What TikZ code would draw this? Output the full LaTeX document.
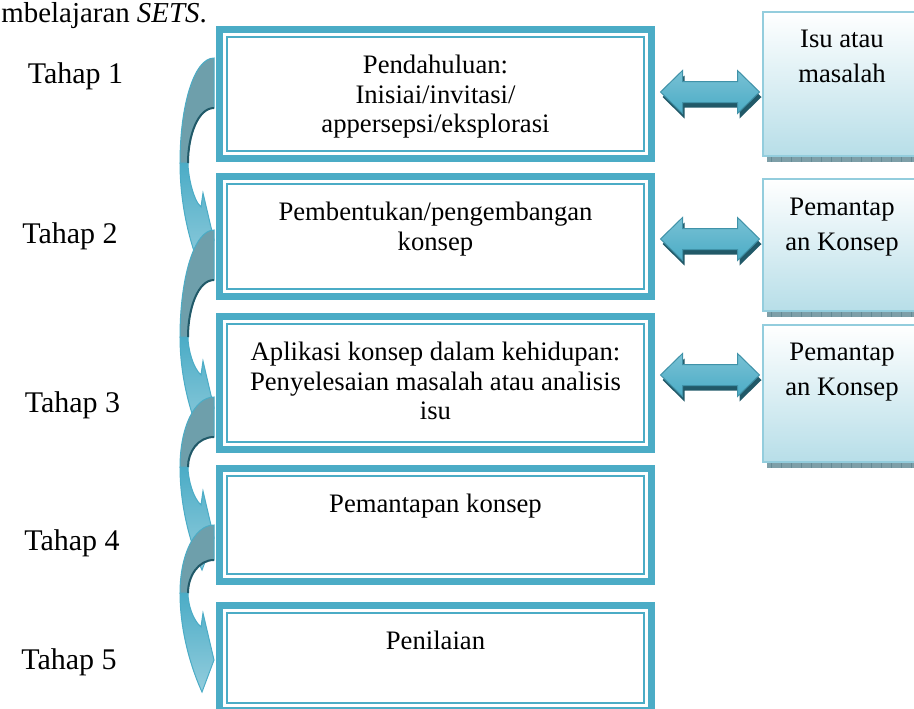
\documentclass[tikz,border=0pt]{standalone}
\usepackage{fontspec}
\setmainfont{Liberation Serif}
\usepackage{xcolor}
\usepackage{tikz}
\usetikzlibrary{positioning}
\usetikzlibrary{fit}
\usetikzlibrary{calc}

\definecolor{setsteal}{HTML}{4BACC6}
\definecolor{setsdark}{HTML}{215968}
\definecolor{setsback}{HTML}{6E9FAB}
\definecolor{setslight}{HTML}{93CDDD}
\definecolor{setspale}{HTML}{B7DEE8}
\definecolor{setsshadow}{HTML}{7E9FA8}

\tikzset{
  mainbox/.style={draw=setsteal, line width=3.15pt, inner sep=0pt, outer sep=0pt},
  innerline/.style={draw=setsteal, line width=0.9pt},
  boxtext/.style={align=center, inner sep=0pt, font=\fontsize{12}{13.3}\selectfont},
  sidebox/.style={draw=setslight, line width=0.9pt, inner sep=0pt, outer sep=0pt,
    top color=white, bottom color=setspale},
  sidetext/.style={align=center, inner sep=0pt, font=\fontsize{12}{15.75}\selectfont},
  tahap/.style={anchor=base, inner sep=0pt, font=\fontsize{13.5}{15}\selectfont},
  bandfront/.style={top color=setsteal, bottom color=setslight, draw=setsteal, line width=0.45pt},
  bandback/.style={fill=setsback, draw=setsteal, line width=0.45pt},
  bandedge/.style={draw=setsdark, line width=0.9pt},
  arrowbody/.style={top color=setsteal!75!white, bottom color=setsteal,
    draw=setsteal!85!black, line width=0.45pt},
  dblarrow/.pic={
    \fill[setsdark, shift={(2,5)}] (-49.5,0) -- (-27.5,-21.5) -- (-27.5,-10.5) -- (27.5,-10.5)
      -- (27.5,-21.5) -- (49.5,0) -- (27.5,21.5) -- (27.5,10.5) -- (-27.5,10.5) -- (-27.5,21.5) -- cycle;
    \draw[arrowbody] (-49.5,0) -- (-27.5,-21.5) -- (-27.5,-10.5) -- (27.5,-10.5)
      -- (27.5,-21.5) -- (49.5,0) -- (27.5,21.5) -- (27.5,10.5) -- (-27.5,10.5) -- (-27.5,21.5) -- cycle;
  }
}

\begin{document}
\begin{tikzpicture}[x=0.45pt, y=-0.45pt, node distance=11.4pt]
\useasboundingbox (0,0) rectangle (914,708);

\node[anchor=base west, inner sep=0pt, font=\fontsize{13}{15}\selectfont] (head) at (1,22)
    {mbelajaran \textit{SETS}.};

% the five stages
\node[mainbox, fit={(219.5,29.5) (651.5,158.5)}] (b1) {};
\node[mainbox, fit={(219.5,176.5) (651.5,296.5)}] (b2) {};
\node[mainbox, fit={(219.5,316.5) (651.5,449.5)}] (b3) {};
\node[mainbox, fit={(219.5,468.5) (651.5,581.5)}] (b4) {};
\node[mainbox, fit={(219.5,605.5) (651.5,710.5)}] (b5) {};
\foreach \b in {b1,b2,b3,b4,b5}
    \draw[innerline] ([shift={(7.5,7.5)}]\b.north west) rectangle ([shift={(-7.5,-7.5)}]\b.south east);

\node[boxtext, below=of b1.north] (t1) {Pendahuluan:\\Inisiai/invitasi/\\appersepsi/eksplorasi};
\node[boxtext, below=of b2.north] (t2) {Pembentukan/pengembangan\\konsep};
\node[boxtext, below=of b3.north] (t3) {Aplikasi konsep dalam kehidupan:\\Penyelesaian masalah atau analisis\\isu};
\node[boxtext, below=of b4.north] (t4) {Pemantapan konsep};
\node[boxtext, below=of b5.north] (t5) {Penilaian};

\node[tahap] (s1) at (75.5,83) {Tahap 1};
\node[tahap] (s2) at (70,243) {Tahap 2};
\node[tahap] (s3) at (72.5,412) {Tahap 3};
\node[tahap] (s4) at (72,550) {Tahap 4};
\node[tahap] (s5) at (69,669) {Tahap 5};

% boxes on the right
\node[sidebox, fit={(763,12) (921,156)}] (r1) {};
\node[sidebox, fit={(763,179) (921,311)}] (r2) {};
\node[sidebox, fit={(763,325) (921,462)}] (r3) {};
\foreach \r in {r1,r2,r3} {
    \fill[setsshadow] ([shift={(4,1)}]\r.south west) rectangle ([shift={(0,6)}]\r.south east);
    \foreach \x in {0,10,...,150}
        \draw[setsdark!70, line width=0.45pt] ([shift={(\x+8,1)}]\r.south west) -- ++(0,5);
}
\node[sidetext, below=7.9pt of r1.north] (u1) {Isu atau\\masalah};
\node[sidetext, below=8.2pt of r2.north] (u2) {Pemantap\\an Konsep};
\node[sidetext, below=7.9pt of r3.north] (u3) {Pemantap\\an Konsep};

\foreach \y in {92,239,375}
    \pic at (710,\y) {dblarrow};

% curved arrows down the left side
\foreach \a/\b/\m/\t in {58/108/163/240, 230/280/337/408, 397/437/467/538, 525/560/593/660} {
    \draw[bandfront] (180,\m) .. controls (180,\m+0.6*\t-0.6*\m) and (192,\t+10) .. (202,\t+32)
        -- (214,\t) -- (203,\t-47) -- (201,\t-33)
        .. controls (193,\t-40) and (188,\m+12) .. (188,\m) -- cycle;
    \draw[bandback] (214,\a) .. controls (194,\a) and (180,\m-0.55*\m+0.55*\a) .. (180,\m)
        -- (188,\m) .. controls (188,\m/2+\b/2) and (198,\b) .. (214,\b) -- cycle;
    \draw[bandedge] (188,\m) .. controls (188,\m/2+\b/2) and (198,\b) .. (214,\b);
}
\end{tikzpicture}
\end{document}
